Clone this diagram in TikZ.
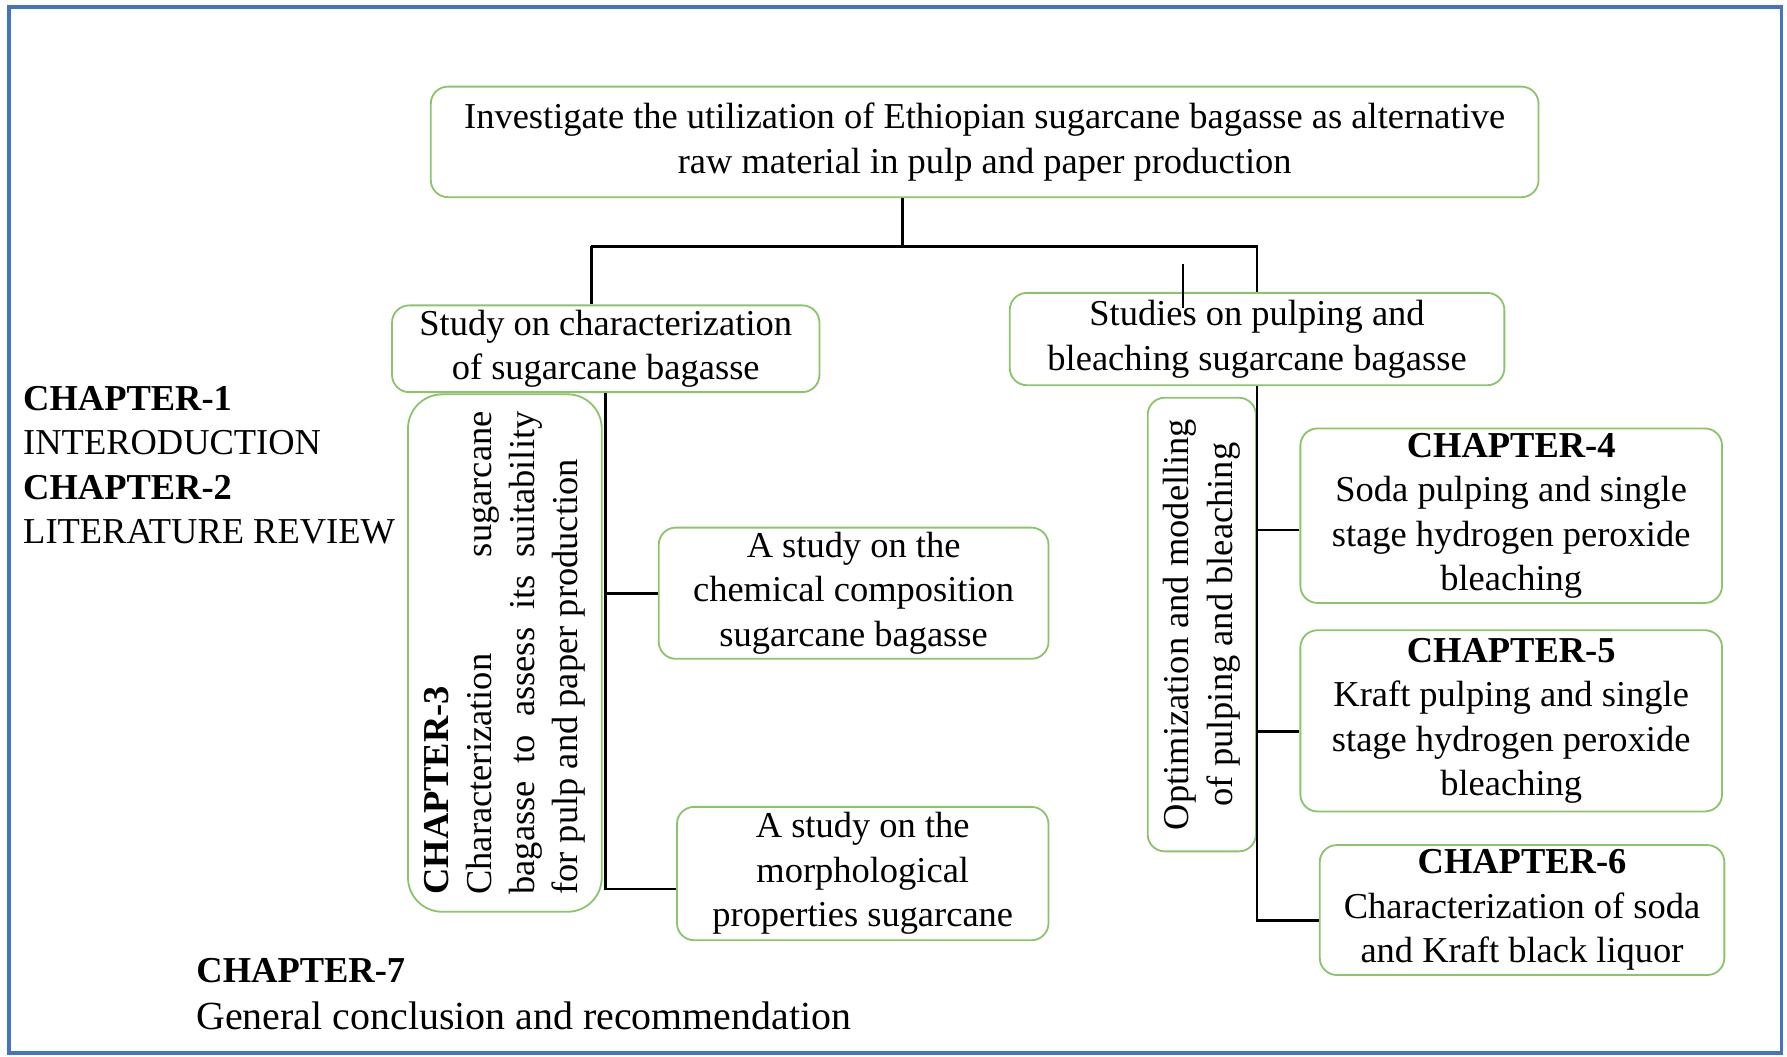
\documentclass[tikz,border=0pt]{standalone}
\usepackage{fontspec}
\setmainfont{Liberation Serif}
\usetikzlibrary{positioning}
\definecolor{boxgreen}{HTML}{8CC46C}
\definecolor{frameblue}{HTML}{4472C4}

\begin{document}
\begin{tikzpicture}[x=0.5pt, y=-0.5pt,
  box/.style={draw=boxgreen, line width=0.8pt, rounded corners=7.5pt, align=center, inner sep=2pt, font=\fontsize{16}{19.5}\selectfont},
  link/.style={line width=1.25pt, black},
  side/.style={align=left, anchor=west, inner sep=0pt, font=\fontsize{16}{19.5}\selectfont}]
\useasboundingbox (0,0) rectangle (1568,927);
% frame
\draw[frameblue, line width=1.5pt] (8,6) rectangle (1563,924);
% main aim
\node[box, minimum width=486pt, minimum height=48.5pt] (goal) at (864,124.5)
  {Investigate the utilization of Ethiopian sugarcane bagasse as alternative\\raw material in pulp and paper production};
% two branches
\node[box, minimum width=187.5pt, minimum height=38pt] (charac) at (531.5,306)
  {Study on characterization\\of sugarcane bagasse};
\node[box, minimum width=217pt, minimum height=40.5pt] (pulping) at (1103,297.5)
  {Studies on pulping and\\bleaching sugarcane bagasse};
% left side
\node[box, rotate=90, minimum width=227pt, minimum height=85pt, rounded corners=15pt,
  text width=212pt, align=justify, font=\fontsize{16}{18.8}\selectfont] (ch3) at (443,573)
  {\textbf{CHAPTER-3}\\Characterization\hfill sugarcane\\bagasse\hfill to\hfill assess\hfill its\hfill suitability\\for pulp and paper production};
\node[box, minimum width=171pt, minimum height=57.5pt] (chem) at (749,520.5)
  {A study on the\\chemical composition\\sugarcane bagasse};
\node[box, minimum width=163pt, minimum height=58.5pt] (morph) at (757,766.5)
  {A study on the\\morphological\\properties sugarcane};
% right side
\node[box, rotate=90, minimum width=199pt, minimum height=47.5pt, font=\fontsize{16}{19}\selectfont] (optim) at (1054.5,548)
  {Optimization and modelling\\of pulping and bleaching};
\node[box, minimum width=185pt, minimum height=75.5pt] (ch4) at (1326,452.5)
  {\textbf{CHAPTER-4}\\Soda pulping and single\\stage hydrogen peroxide\\bleaching};
\node[box, minimum width=185pt, minimum height=79.5pt] (ch5) at (1326,632.5)
  {\textbf{CHAPTER-5}\\Kraft pulping and single\\stage hydrogen peroxide\\bleaching};
\node[box, minimum width=177.5pt, minimum height=56.5pt] (ch6) at (1335.5,798.5)
  {\textbf{CHAPTER-6}\\Characterization of soda\\and Kraft black liquor};
% chapter notes
\node[side] (ch12) at (20,408)
  {\textbf{CHAPTER-1}\\INTERODUCTION\\\textbf{CHAPTER-2}\\LITERATURE REVIEW};
\node[side, font=\fontsize{16}{20.5}\selectfont] (ch7) at (172,872.5)
  {\textbf{CHAPTER-7}\\{\fontsize{17.5}{20.5}\selectfont General conclusion and recommendation}};
% tree lines
\coordinate (split) at (792,216);
\coordinate (lsplit) at (519,216);
\draw[link] (split |- goal.south) -- (split);
\draw[link] (lsplit) -- (split) -| (pulping.north);
\draw[link] (lsplit) -- (lsplit |- charac.north);
\coordinate (tick) at (1038,232);
\draw[link, line width=1pt] (tick) -- ++(0,38);
% left trunk
\draw[link] (charac.south) |- (chem.west);
\draw[link] (charac.south) |- ([yshift=-6.75pt]morph.west);
% right trunk
\draw[link] (pulping.south) |- ([yshift=-6.25pt]ch4.west);
\draw[link] (pulping.south) |- ([yshift=-4.75pt]ch5.west);
\draw[link] (pulping.south) |- ([yshift=-4.75pt]ch6.west);
\end{tikzpicture}
\end{document}
